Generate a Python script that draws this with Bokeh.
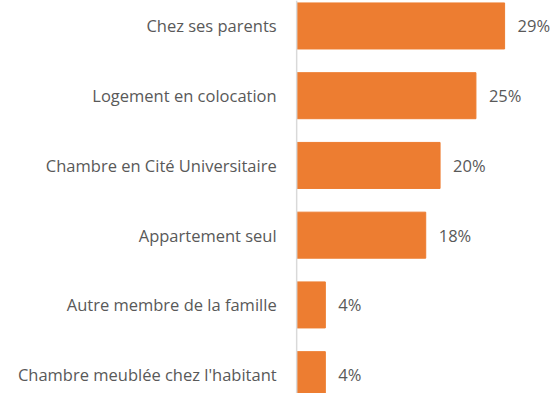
from bokeh.plotting import figure
from bokeh.models import Range1d, ColumnDataSource
from bokeh.core.properties import value
from bokeh.embed import file_html
from bokeh.resources import INLINE

categories = ["Chez ses parents", "Logement en colocation", "Chambre en Cité Universitaire",
              "Appartement seul", "Autre membre de la famille", "Chambre meublée chez l'habitant"]
values = [29, 25, 20, 18, 4, 4]
value_labels = ["29%", "25%", "20%", "18%", "4%", "4%"]

W, H = 550, 393
rows = list(range(len(categories)))
src = ColumnDataSource(dict(y=rows, v=values, cat=categories, lab=value_labels,
                            zero=[0] * len(rows)))

p = figure(width=W, height=H, output_backend="svg", toolbar_location=None,
           x_range=Range1d(-41.3, 35.4), y_range=Range1d(5.27, -0.365),
           min_border=0, outline_line_color=None)
p.xaxis.visible = False
p.yaxis.visible = False
p.grid.visible = False

p.hbar(y="y", left=0, right="v", height=0.66, source=src, color="#ED7D31")
p.segment(x0=[0], y0=[-0.365], x1=[0], y1=[5.27], line_color="#D9D9D9", line_width=1.5)

font = value("Open Sans")
p.text(x="zero", y="y", text="cat", source=src, x_offset=-20, text_align="right",
       text_baseline="middle", text_font=font, text_font_size="16.5px", text_color="#595959")
p.text(x="v", y="y", text="lab", source=src, x_offset=13, text_align="left",
       text_baseline="middle", text_font=font, text_font_size="16.5px", text_color="#595959")

open("out.html", "w").write(file_html(p, INLINE))
